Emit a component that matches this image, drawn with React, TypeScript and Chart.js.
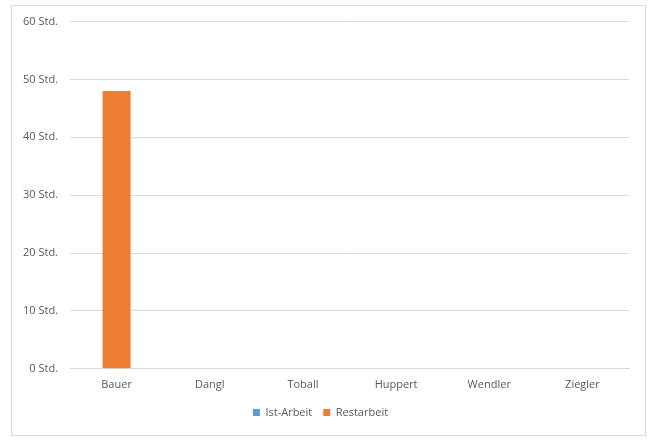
import React, { useEffect, useRef } from "react";
import { Chart, registerables } from "chart.js";

Chart.register(...registerables);

const categories = ["Bauer", "Dangl", "Toball", "Huppert", "Wendler", "Ziegler"];
const istArbeit = [0, 0, 0, 0, 0, 0];
const restArbeit = [48, 0, 0, 0, 0, 0];
const yMax = 60;
const yStep = 10;

export default function App() {
  const ref = useRef<HTMLCanvasElement | null>(null);
  useEffect(() => {
    if (!ref.current) return;
    const font = { family: "'Open Sans', sans-serif", size: 11 };
    const chart = new Chart(ref.current, {
      type: "bar",
      data: {
        labels: categories,
        datasets: [
          { label: "Ist-Arbeit", data: istArbeit, backgroundColor: "#5B9BD5" },
          { label: "Restarbeit", data: restArbeit, backgroundColor: "#ED7D31" },
        ],
      },
      options: {
        animation: false,
        responsive: false,
        maintainAspectRatio: false,
        layout: { padding: { left: 0, top: 5, right: 16, bottom: 7 } },
        datasets: { bar: { categoryPercentage: 0.6, barPercentage: 0.5 } },
        plugins: {
          tooltip: { enabled: false },
          legend: {
            position: "bottom",
            labels: {
              boxWidth: 7,
              boxHeight: 7,
              color: "#595959",
              font,
              padding: 11,
            },
          },
        },
        scales: {
          x: {
            stacked: true,
            grid: { display: false },
            border: { display: true, color: "#d9d9d9" },
            ticks: { color: "#595959", font, padding: 1 },
            afterFit: (s: any) => {
              s.height = s.height + 4;
            },
          },
          y: {
            stacked: true,
            min: 0,
            max: yMax,
            ticks: {
              stepSize: yStep,
              color: "#595959",
              font,
              padding: 12,
              callback: (v: any) => `${v} Std.`,
            },
            grid: { color: "#d9d9d9", drawTicks: false },
            border: { display: false },
            afterFit: (s: any) => {
              s.width = 58;
            },
          },
        },
      },
    });
    return () => chart.destroy();
  }, []);
  return (
    <div
      style={{
        position: "absolute",
        left: 11,
        top: 5,
        width: 633,
        height: 429,
        border: "1px solid #d9d9d9",
        background: "#fff",
        overflow: "hidden",
      }}
    >
      <canvas
        ref={ref}
        width={633}
        height={432}
        style={{ display: "block", marginTop: -3 }}
      />
    </div>
  );
}
